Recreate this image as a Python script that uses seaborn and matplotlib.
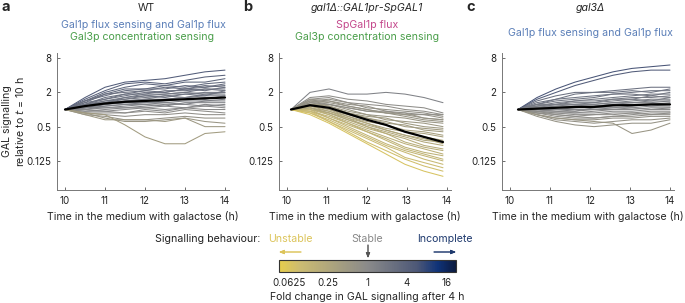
import numpy as np
import pandas as pd
import matplotlib
matplotlib.use("Agg")
import matplotlib.pyplot as plt
import seaborn as sns
from matplotlib.colors import Normalize, LinearSegmentedColormap
from matplotlib.cm import ScalarMappable

# time points (h) for each strain
wt_times = [10, 10.5, 11, 11.5, 12, 12.5, 13, 13.5, 14]
sp_times = [10.1, 10.575, 11.05, 11.525, 12.0, 12.475, 12.95, 13.425, 13.9]
g3_times = [10.2, 10.675, 11.15, 11.625, 12.1, 12.575, 13.05, 13.525, 14.0]

# log2 GAL signalling relative to t = 10 h, one row per cell
wt_log2 = [
    [0, .7, 1.3, 1.6, 1.7, 1.8, 2.0, 2.2, 2.3],
    [0, .6, 1.1, 1.5, 1.6, 1.5, 1.7, 1.9, 2.0],
    [0, .5, 1.0, 1.3, 1.5, 1.4, 1.6, 1.6, 1.8],
    [0, .4, .9, 1.2, 1.2, 1.4, 1.3, 1.5, 1.6],
    [0, .5, .8, 1.1, 1.2, 1.2, 1.4, 1.3, 1.5],
    [0, .3, .7, .9, 1.1, 1.3, 1.2, 1.3, 1.4],
    [0, .4, .6, .8, 1.0, 1.0, 1.2, 1.4, 1.3],
    [0, .3, .6, .9, .9, 1.1, 1.1, 1.2, 1.2],
    [0, .2, .5, .7, .9, .9, 1.0, 1.2, 1.1],
    [0, .3, .5, .6, .8, .9, 1.0, .9, 1.0],
    [0, .2, .4, .6, .7, .8, .9, 1.0, 1.0],
    [0, .2, .4, .5, .6, .8, .7, .9, .9],
    [0, .1, .3, .5, .6, .6, .7, .8, .8],
    [0, .2, .3, .4, .5, .6, .7, .6, .8],
    [0, .1, .3, .4, .4, .5, .6, .7, .7],
    [0, .1, .2, .3, .4, .4, .5, .5, .6],
    [0, 0, .2, .3, .3, .4, .3, .5, .5],
    [0, .1, .1, .2, .3, .2, .4, .4, .4],
    [0, 0, .1, .1, .2, .3, .3, .2, .3],
    [0, -.1, 0, .1, .1, .2, .1, .3, .2],
    [0, 0, -.1, 0, .1, 0, .1, .2, .1],
    [0, -.1, -.1, -.2, 0, -.1, .1, 0, 0],
    [0, -.2, -.2, -.2, -.1, -.2, 0, -.1, -.2],
    [0, -.2, -.3, -.4, -.3, -.3, -.2, -.3, -.3],
    [0, -.3, -.4, -.6, -.6, -.5, -.4, -.5, -.5],
    [0, -.2, -.5, -.7, -.7, -.6, -.5, -.7, -.8],
    [0, -.3, -.6, -.6, -.6, -.7, -.5, -1.0, -1.0],
    [0, -.2, -.3, -.9, -1.6, -2.0, -2.0, -1.4, -1.3],
    [0, .5, .9, 1.0, 1.1, 1.0, 1.2, 1.1, 1.3],
    [0, .3, .4, .7, .8, .7, .9, .8, 1.1],
]
wt_mean = [0, .2, .35, .45, .5, .55, .6, .65, .7]

sp_log2 = [
    [0, 1.0, 1.2, 0.9, 0.9, 1.0, 0.9, 0.7, 0.4],
    [0, .7, .8, .6, .5, .3, .2, .1, -.2],
    [0, .6, .7, .4, .3, .2, 0, -.1, -.3],
    [0, .5, .6, .4, .1, 0, -.1, -.2, -.4],
    [0, .6, .5, .3, .2, -.1, -.3, -.3, -.5],
    [0, .4, .5, .2, 0, -.2, -.2, -.5, -.6],
    [0, .5, .3, .1, -.1, -.2, -.4, -.6, -.7],
    [0, .3, .3, 0, -.3, -.4, -.5, -.7, -.8],
    [0, .4, .2, -.1, -.3, -.6, -.7, -.8, -1.0],
    [0, .3, .2, -.2, -.4, -.5, -.8, -1.0, -1.1],
    [0, .2, .1, -.2, -.5, -.8, -.9, -1.2, -1.3],
    [0, .3, 0, -.3, -.6, -.9, -1.2, -1.3, -1.5],
    [0, .2, 0, -.4, -.7, -.9, -1.3, -1.4, -1.6],
    [0, .1, -.1, -.4, -.8, -1.1, -1.3, -1.6, -1.8],
    [0, .2, -.1, -.5, -.8, -1.2, -1.5, -1.7, -2.0],
    [0, .1, -.2, -.5, -1.0, -1.3, -1.6, -1.9, -2.1],
    [0, 0, -.2, -.6, -1.0, -1.4, -1.7, -2.1, -2.3],
    [0, .1, -.3, -.7, -1.1, -1.4, -1.9, -2.2, -2.4],
    [0, 0, -.3, -.8, -1.2, -1.6, -2.0, -2.3, -2.6],
    [0, -.1, -.4, -.8, -1.3, -1.7, -2.2, -2.5, -2.7],
    [0, 0, -.5, -.9, -1.3, -1.8, -2.3, -2.6, -2.9],
    [0, -.1, -.5, -1.0, -1.5, -2.0, -2.4, -2.7, -3.0],
    [0, -.2, -.6, -1.1, -1.6, -2.1, -2.5, -2.9, -3.2],
    [0, -.1, -.7, -1.2, -1.7, -2.2, -2.8, -3.1, -3.4],
    [0, -.2, -.7, -1.3, -1.9, -2.4, -2.9, -3.3, -3.6],
    [0, -.3, -.8, -1.4, -2.0, -2.6, -3.2, -3.6, -3.9],
    [0, .4, .3, .1, -.1, -.1, -.2, -.3, -.3],
    [0, .5, .4, .2, 0, -.2, -.3, -.5, -.6],
    [0, .3, .1, -.2, -.5, -.7, -1.0, -1.1, -1.2],
    [0, .1, -.2, -.6, -.9, -1.2, -1.5, -1.8, -1.9],
]
sp_mean = [0, .25, .1, -.25, -.6, -.9, -1.3, -1.6, -1.9]

g3_log2 = [
    [0, .7, 1.2, 1.6, 1.9, 2.2, 2.4, 2.5, 2.6],
    [0, .6, 1.0, 1.4, 1.7, 2.0, 2.2, 2.3, 2.3],
    [0, .5, .8, 1.0, 1.0, 1.1, 1.2, 1.3, 1.3],
    [0, .4, .6, .9, 1.0, 1.0, 1.1, 1.0, 1.2],
    [0, .3, .6, .7, .8, .9, 1.0, 1.1, 1.1],
    [0, .3, .5, .6, .7, .9, .9, .8, 1.0],
    [0, .2, .4, .5, .6, .7, .8, .9, .9],
    [0, .3, .3, .5, .5, .6, .7, .7, .8],
    [0, .2, .3, .4, .4, .6, .6, .8, .7],
    [0, .1, .3, .3, .4, .5, .6, .5, .7],
    [0, .2, .2, .3, .3, .4, .5, .6, .6],
    [0, .1, .2, .2, .3, .4, .4, .4, .5],
    [0, .1, .1, .2, .2, .3, .4, .5, .5],
    [0, 0, .1, .1, .2, .3, .3, .3, .4],
    [0, .1, 0, .1, .1, .2, .3, .2, .3],
    [0, 0, 0, -.1, .1, .1, .2, .3, .3],
    [0, -.1, 0, 0, 0, .1, .1, .2, .2],
    [0, 0, -.1, -.1, 0, 0, .1, 0, .1],
    [0, -.1, -.1, -.2, -.1, 0, 0, .1, .1],
    [0, -.1, -.2, -.2, -.2, -.1, -.1, 0, 0],
    [0, -.2, -.2, -.3, -.3, -.2, -.2, -.1, -.1],
    [0, -.1, -.3, -.4, -.3, -.3, -.2, -.3, -.2],
    [0, -.2, -.3, -.4, -.5, -.4, -.3, -.2, -.2],
    [0, -.2, -.4, -.5, -.5, -.4, -.4, -.3, -.3],
    [0, -.3, -.5, -.6, -.6, -.5, -.5, -.4, -.4],
    [0, -.3, -.6, -.7, -.8, -.7, -.6, -.6, -.5],
    [0, -.4, -.7, -.9, -1.0, -.9, -.8, -.8, -.6],
    [0, -.3, -.5, -.6, -.7, -.8, -1.4, -1.2, -.8],
]
g3_mean = [0, .05, .1, .15, .15, .25, .25, .3, .3]

cbar_ticks = [-4, -2, 0, 2, 4]
cbar_labels = ['0.0625', '0.25', '1', '4', '16']

W, H = 685, 303
FS = 7.6
BLUE = '#5b7fb8'
GREEN = '#4a9e4a'
PINK = '#c4488c'
# yellow -> grey -> navy, like the figure's fold-change scale
cmap = LinearSegmentedColormap.from_list('fold', [
    (0.0, '#e6cd4c'), (0.12, '#cbbb72'), (0.5, '#8a8a8a'),
    (0.78, '#4d5877'), (0.9, '#0f3278'), (1.0, '#0b1a3e')])
norm = Normalize(-4.5, 4.5)


def fx(x):
    return x / W


def fy(y):
    return 1 - y / H


def long_table(times, rows):
    recs = []
    for i, row in enumerate(rows):
        for t, v in zip(times, row):
            recs.append({'t': t, 'fold': 2.0 ** v, 'cell': i})
    return pd.DataFrame(recs)


def draw_panel(ax, times, rows, mean):
    df = long_table(times, rows)
    pal = {i: cmap(norm(r[-1])) for i, r in enumerate(rows)}
    sns.lineplot(data=df, x='t', y='fold', hue='cell', palette=pal, estimator=None,
                 legend=False, lw=0.75, ax=ax)
    mdf = pd.DataFrame({'t': times, 'fold': [2.0 ** v for v in mean]})
    sns.lineplot(data=mdf, x='t', y='fold', color='black', lw=1.6, ax=ax)
    ax.set_yscale('log', base=2)
    ax.set_ylim(2 ** -4.7, 2 ** 3.3)
    ax.set_xlim(9.8, 14.1)
    ax.set_yticks([0.125, 0.5, 2, 8])
    ax.set_yticklabels(['0.125', '0.5', '2', '8'])
    ax.minorticks_off()
    ax.set_xticks([10, 11, 12, 13, 14])
    ax.set_xlabel('Time in the medium with galactose (h)', fontsize=FS, labelpad=4)
    ax.set_ylabel('')
    ax.tick_params(direction='in', length=2.5, width=0.6, colors='#555555',
                   labelcolor='#222222', labelsize=7, pad=4)
    for s in ['top', 'right']:
        ax.spines[s].set_visible(False)
    for s in ['left', 'bottom']:
        ax.spines[s].set_color('#777777')
        ax.spines[s].set_linewidth(0.7)


def main():
    sns.set_theme(style='ticks')
    plt.rcParams['font.family'] = ['Inter', 'DejaVu Sans']
    plt.rcParams['mathtext.fontset'] = 'custom'
    plt.rcParams['mathtext.it'] = 'DejaVu Sans:italic'
    plt.rcParams['mathtext.rm'] = 'Inter'

    fig = plt.figure(figsize=(6.85, 3.03), dpi=100)
    bottom, height = fy(190), (190 - 53) / H
    lefts = [57, 279, 502]
    axes = [fig.add_axes([fx(l), bottom, 172 / W, height]) for l in lefts]

    draw_panel(axes[0], wt_times, wt_log2, wt_mean)
    draw_panel(axes[1], sp_times, sp_log2, sp_mean)
    draw_panel(axes[2], g3_times, g3_log2, g3_mean)

    axes[0].set_ylabel('GAL signalling\nrelative to $t$ = 10 h', fontsize=FS, linespacing=1.2)
    axes[0].yaxis.set_label_coords(-0.18, 0.5)

    # panel letters and titles
    for lab, x in [('a', 1), ('b', 243), ('c', 466)]:
        fig.text(fx(x), fy(7), lab, fontsize=10.5, fontweight='bold', va='center', ha='left')
    fig.text(fx(146), fy(8), 'WT', fontsize=FS, ha='center', va='center')
    fig.text(fx(143), fy(25), 'Gal1p flux sensing and Gal1p flux', color=BLUE,
             fontsize=FS, ha='center', va='center')
    fig.text(fx(142), fy(37), 'Gal3p concentration sensing', color=GREEN,
             fontsize=FS, ha='center', va='center')
    fig.text(fx(367), fy(8), 'gal1Δ::GAL1pr-SpGAL1', style='italic', fontsize=FS,
             ha='center', va='center')
    fig.text(fx(367), fy(25), 'SpGal1p flux', color=PINK, fontsize=FS, ha='center', va='center')
    fig.text(fx(367), fy(37), 'Gal3p concentration sensing', color=GREEN,
             fontsize=FS, ha='center', va='center')
    fig.text(fx(590), fy(8), 'gal3Δ', style='italic', fontsize=FS, ha='center', va='center')
    fig.text(fx(590), fy(33), 'Gal1p flux sensing and Gal1p flux', color=BLUE,
             fontsize=FS, ha='center', va='center')

    # colour bar legend
    cax = fig.add_axes([fx(279), fy(272), 177 / W, 12 / H])
    cb = fig.colorbar(ScalarMappable(norm=norm, cmap=cmap), cax=cax, orientation='horizontal')
    cb.set_ticks(cbar_ticks)
    cb.set_ticklabels(cbar_labels)
    cax.tick_params(direction='in', top=True, bottom=True, length=3, width=0.7,
                    colors='#222222', labelsize=7, pad=4)
    cb.outline.set_linewidth(0.8)
    cb.outline.set_edgecolor('#333333')
    fig.text(fx(367), fy(297), 'Fold change in GAL signalling after 4 h', fontsize=FS,
             ha='center', va='center')

    fig.text(fx(260), fy(239), 'Signalling behaviour:', fontsize=FS, ha='right', va='center',
             color='#222222')
    fig.text(fx(290), fy(239), 'Unstable', fontsize=FS, ha='center', va='center', color='#dcc45a')
    fig.text(fx(367), fy(239), 'Stable', fontsize=FS, ha='center', va='center', color='#888888')
    fig.text(fx(445), fy(239), 'Incomplete', fontsize=FS, ha='center', va='center', color='#1f3a6e')
    arrow = dict(arrowstyle='-|>,head_length=0.25,head_width=0.1', lw=0.7,
                 shrinkA=0, shrinkB=0)
    fig.add_artist(plt.annotate('', xy=(fx(279), fy(252)), xytext=(fx(301), fy(252)),
                                xycoords='figure fraction',
                                arrowprops=dict(arrow, color='#dcc45a')))
    fig.add_artist(plt.annotate('', xy=(fx(368), fy(258)), xytext=(fx(368), fy(245)),
                                xycoords='figure fraction',
                                arrowprops=dict(arrow, color='#555555')))
    fig.add_artist(plt.annotate('', xy=(fx(456), fy(252)), xytext=(fx(434), fy(252)),
                                xycoords='figure fraction',
                                arrowprops=dict(arrow, color='#1f3a6e')))

    fig.savefig('out.png', dpi=100)


if __name__ == "__main__":
    main()
